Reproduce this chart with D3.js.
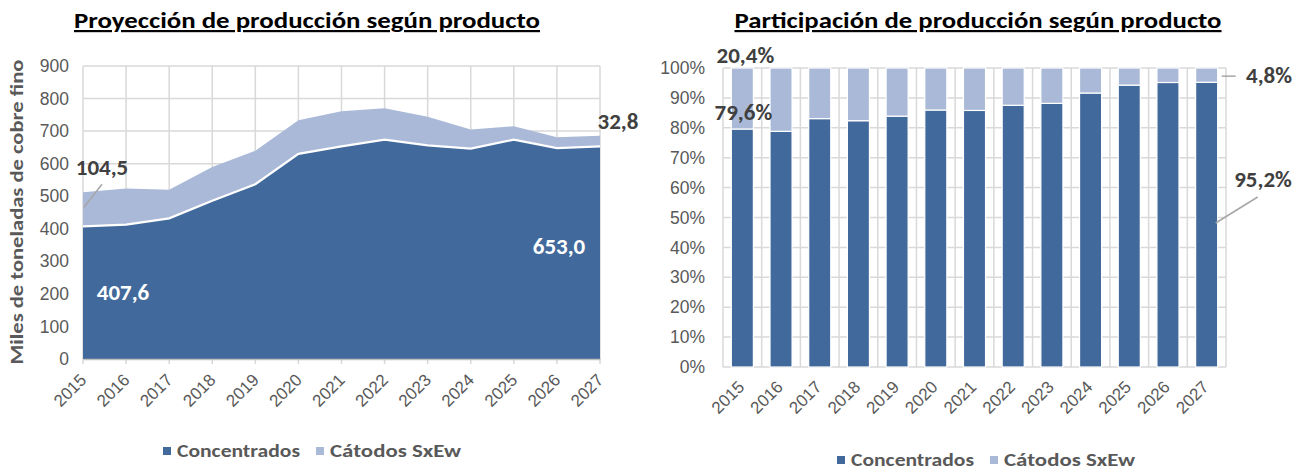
<!DOCTYPE html>
<html>
<head>
<meta charset="utf-8">
<script src="https://cdn.jsdelivr.net/npm/d3@7"></script>
<style>
    html, body { margin: 0; padding: 0; background: #fff; }
    svg { display: block; font-family: Calibri, Carlito, "Liberation Sans Narrow", "Liberation Sans", Arial, sans-serif; }
</style>
</head>
<body>
<svg id="chart" width="1308" height="470"></svg>
<script>
(function(window, document, undefined) {
    'use strict';

    // data
    var years = ['2015', '2016', '2017', '2018', '2019', '2020', '2021', '2022', '2023', '2024', '2025', '2026', '2027'];
    var concentrados = [407.6, 413, 432, 486, 537, 630, 653, 674, 656, 646, 674, 648, 653.0];
    var catodos = [104.5, 111, 88, 104, 103, 103, 108, 96, 88, 59, 41, 33, 32.8];
    var seriesNames = ['Concentrados', 'Cátodos SxEw'];
    var ticksLeft = [0, 100, 200, 300, 400, 500, 600, 700, 800, 900];
    var ticksRight = [0, 0.1, 0.2, 0.3, 0.4, 0.5, 0.6, 0.7, 0.8, 0.9, 1];

    // global vars
    var colDark = '#41699b',
        colLight = '#a9b9d7',
        colGrid = '#d9d9d9',
        colTick = '#595959',
        colLabel = '#404040';

    var svg = d3.select('#chart');
    var fmt1 = function(v) { return d3.format('.1f')(v).replace('.', ','); };
    var fmtPct = function(v) { return d3.format('.1f')(v * 100).replace('.', ',') + '%'; };

    var rows = years.map(function(y, i) {
        return { year: y, conc: concentrados[i], cat: catodos[i] };
    });

    function title(x, y, txt, len) {
        return svg.append('text')
            .attr('x', x).attr('y', y)
            .attr('text-anchor', 'middle')
            .attr('font-size', 22).attr('font-weight', 'bold')
            .attr('fill', '#000')
            .attr('text-decoration', 'underline')
            .attr('textLength', len).attr('lengthAdjust', 'spacingAndGlyphs')
            .text(txt);
    }

    function legend(x, y) {
        var items = [
            { name: seriesNames[0], col: colDark, dx: 0, w: 123 },
            { name: seriesNames[1], col: colLight, dx: 153, w: 131 }
        ];
        items.forEach(function(it) {
            svg.append('rect')
                .attr('x', x + it.dx).attr('y', y - 4)
                .attr('width', 8).attr('height', 8)
                .attr('fill', it.col);
            svg.append('text')
                .attr('x', x + it.dx + 14).attr('y', y + 6)
                .attr('font-size', 17.5).attr('font-weight', 'bold')
                .attr('fill', colTick)
                .attr('textLength', it.w).attr('lengthAdjust', 'spacingAndGlyphs')
                .text(it.name);
        });
    }

    function label(g, x, y, txt, col) {
        return g.append('text')
            .attr('x', x).attr('y', y)
            .attr('text-anchor', 'middle')
            .attr('font-size', 23).attr('font-weight', 'bold').attr('fill', col)
            .text(txt);
    }

    /**
     * + left chart: area
     * =====================================================================
     */

    var L = { left: 83, right: 600, top: 66, bottom: 359 };

    var xL = d3.scalePoint().domain(years).range([L.left, L.right]);
    var yL = d3.scaleLinear().domain([0, 900]).range([L.bottom, L.top]);

    var gL = svg.append('g');

    // grid
    gL.selectAll('.hgrid').data(ticksLeft).enter().append('line')
        .attr('x1', L.left).attr('x2', L.right)
        .attr('y1', function(d) { return yL(d); }).attr('y2', function(d) { return yL(d); })
        .attr('stroke', colGrid).attr('stroke-width', 1.5);
    gL.selectAll('.vgrid').data(years).enter().append('line')
        .attr('x1', function(d) { return xL(d); }).attr('x2', function(d) { return xL(d); })
        .attr('y1', L.top).attr('y2', L.bottom + 5)
        .attr('stroke', colGrid).attr('stroke-width', 1.5);

    var stackL = d3.stack().keys(['conc', 'cat'])(rows);

    var area = d3.area()
        .x(function(d) { return xL(d.data.year); })
        .y0(function(d) { return yL(d[0]); })
        .y1(function(d) { return yL(d[1]); });

    gL.selectAll('.area').data(stackL).enter().append('path')
        .attr('d', area)
        .attr('fill', function(d, i) { return i === 0 ? colDark : colLight; });

    gL.append('path')
        .datum(stackL[0])
        .attr('d', d3.line()
            .x(function(d) { return xL(d.data.year); })
            .y(function(d) { return yL(d[1]); }))
        .attr('fill', 'none').attr('stroke', '#fff').attr('stroke-width', 2.2);

    // axes
    var axYL = gL.append('g')
        .attr('transform', 'translate(' + (L.left - 14) + ',0)')
        .call(d3.axisLeft(yL).tickValues(ticksLeft).tickSize(0).tickPadding(0));
    axYL.select('.domain').remove();
    axYL.selectAll('text')
        .attr('font-size', 17.5).attr('fill', colTick)
        .attr('font-family', 'inherit');

    var axXL = gL.append('g')
        .attr('transform', 'translate(0,' + L.bottom + ')')
        .call(d3.axisBottom(xL).tickSize(0).tickPadding(0));
    axXL.select('.domain').attr('stroke', '#bfbfbf').attr('stroke-width', 1.5);
    axXL.selectAll('text')
        .attr('font-size', 17).attr('fill', colTick)
        .attr('font-family', 'inherit')
        .attr('text-anchor', 'end')
        .attr('dy', 0)
        .attr('transform', 'translate(4,22) rotate(-45)');

    svg.append('text')
        .attr('transform', 'translate(23,' + 212 + ') rotate(-90)')
        .attr('text-anchor', 'middle')
        .attr('font-size', 17.5).attr('font-weight', 'bold')
        .attr('fill', colTick)
        .attr('textLength', 305).attr('lengthAdjust', 'spacingAndGlyphs')
        .text('Miles de toneladas de cobre fino');

    // labels
    var x0 = xL(years[0]), xN = xL(years[years.length - 1]);
    gL.append('line')
        .attr('x1', x0 + 19).attr('y1', yL(concentrados[0] + catodos[0] / 2) - 25)
        .attr('x2', x0 + 1).attr('y2', yL(concentrados[0] + catodos[0] / 2) - 2)
        .attr('stroke', '#a6a6a6').attr('stroke-width', 1.5);
    label(gL, x0 + 19, 175, fmt1(catodos[0]), colLabel);
    label(gL, x0 + 40, 300, fmt1(concentrados[0]), '#fff');
    label(gL, xN - 41, 254, fmt1(concentrados[concentrados.length - 1]), '#fff');
    label(gL, xN + 18, 129, fmt1(catodos[catodos.length - 1]), colLabel);

    title(307, 28, 'Proyección de producción según producto', 466);
    legend(163, 451);

    /* = left chart */

    /**
     * + right chart: 100% stacked bars
     * =====================================================================
     */

    var R = { left: 723, right: 1226, top: 68, bottom: 367 };

    var xR = d3.scaleBand().domain(years).range([R.left, R.right]).paddingInner(0.43).paddingOuter(0.215);
    var xRb = d3.scaleBand().domain(years).range([R.left, R.right]);
    var yR = d3.scaleLinear().domain([0, 1]).range([R.bottom, R.top]);

    var gR = svg.append('g');

    gR.selectAll('.hgrid').data(ticksRight).enter().append('line')
        .attr('x1', R.left).attr('x2', R.right)
        .attr('y1', function(d) { return yR(d); }).attr('y2', function(d) { return yR(d); })
        .attr('stroke', colGrid).attr('stroke-width', 1.5);
    gR.selectAll('.vgrid').data(years.concat(['end'])).enter().append('line')
        .attr('x1', function(d, i) { return R.left + i * xRb.step(); })
        .attr('x2', function(d, i) { return R.left + i * xRb.step(); })
        .attr('y1', R.top).attr('y2', R.bottom)
        .attr('stroke', colGrid).attr('stroke-width', 1.5);

    var stackR = d3.stack().keys(['conc', 'cat']).offset(d3.stackOffsetExpand)(rows);

    gR.selectAll('.series').data(stackR).enter().append('g')
        .attr('fill', function(d, i) { return i === 0 ? colDark : colLight; })
        .selectAll('rect').data(function(d) { return d; }).enter().append('rect')
        .attr('x', function(d) { return xR(d.data.year); })
        .attr('width', xR.bandwidth())
        .attr('y', function(d) { return yR(d[1]); })
        .attr('height', function(d) { return yR(d[0]) - yR(d[1]); })
        .attr('stroke', '#fff').attr('stroke-width', 1.2);

    var axYR = gR.append('g')
        .attr('transform', 'translate(' + (R.left - 18) + ',0)')
        .call(d3.axisLeft(yR).tickValues(ticksRight).tickSize(0).tickPadding(0).tickFormat(d3.format('.0%')));
    axYR.select('.domain').remove();
    axYR.selectAll('text')
        .attr('font-size', 17.5).attr('fill', colTick)
        .attr('font-family', 'inherit');

    var axXR = gR.append('g')
        .attr('transform', 'translate(0,' + R.bottom + ')')
        .call(d3.axisBottom(xR).tickSize(0).tickPadding(0));
    axXR.select('.domain').remove();
    axXR.selectAll('text')
        .attr('font-size', 17).attr('fill', colTick)
        .attr('font-family', 'inherit')
        .attr('text-anchor', 'end')
        .attr('dy', 0)
        .attr('transform', 'translate(3,21) rotate(-45)');

    // labels
    var share0 = stackR[0][0][1], shareN = stackR[0][years.length - 1][1];
    var bx0 = xR(years[0]) + xR.bandwidth() / 2;
    var bxN = xR(years[years.length - 1]) + xR.bandwidth();

    label(gR, bx0 + 3, 63, fmtPct(1 - share0), colLabel);
    label(gR, bx0 + 1, 120, fmtPct(share0), colLabel);

    gR.append('line')
        .attr('x1', bxN + 4).attr('y1', yR((1 + shareN) / 2) + 1)
        .attr('x2', bxN + 18).attr('y2', yR((1 + shareN) / 2) + 1)
        .attr('stroke', '#a6a6a6').attr('stroke-width', 1.5);
    label(gR, 1269, 83, fmtPct(1 - shareN), colLabel);

    gR.append('line')
        .attr('x1', bxN + 40).attr('y1', 197)
        .attr('x2', bxN - 2).attr('y2', 223)
        .attr('stroke', '#a6a6a6').attr('stroke-width', 1.5);
    label(gR, 1263, 187, fmtPct(shareN), colLabel);

    title(978, 28, 'Participación de producción según producto', 487);
    legend(837, 460);

    /* = right chart */

})(window, document);
</script>
</body>
</html>
